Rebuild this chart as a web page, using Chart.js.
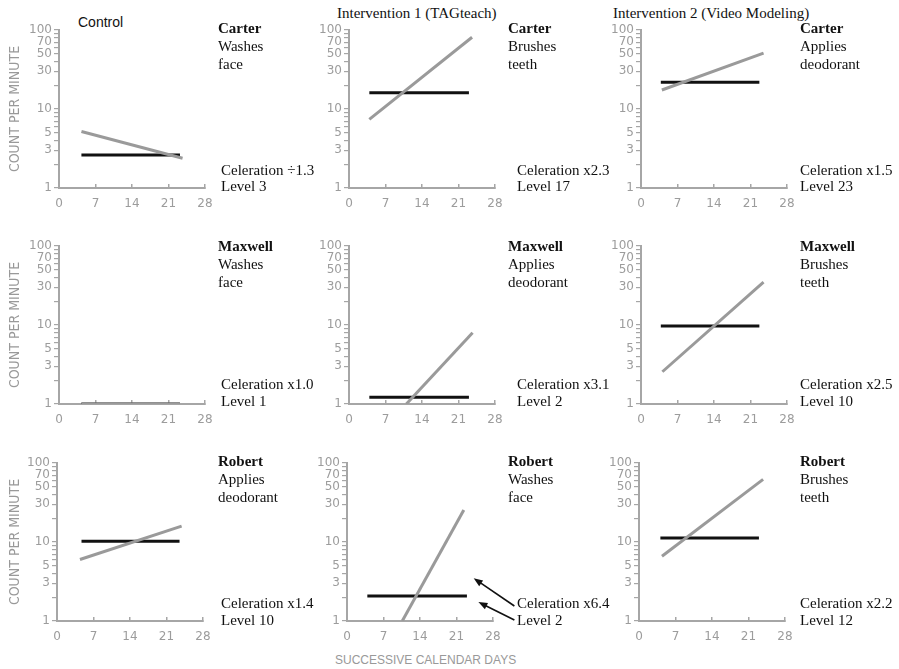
<!DOCTYPE html>
<html>
<head>
<meta charset="utf-8">
<script src="https://cdn.jsdelivr.net/npm/chart.js@4.4.1/dist/chart.umd.min.js"></script>
<style>
  body { margin: 0; background: #fff; width: 899px; height: 669px; position: relative; overflow: hidden; }
  canvas { position: absolute; }
  .note { position: absolute; font-family: "Liberation Serif", "Times New Roman", serif; font-size: 15px; color: #111; white-space: nowrap; }
  .cond { position: absolute; white-space: nowrap; color: #111; line-height: 17px; }
</style>
</head>
<body>
<script>
// conditions (columns) and students (rows)
const conditions = ['Control', 'Intervention 1 (TAGteach)', 'Intervention 2 (Video Modeling)'];
const students = ['Carter', 'Maxwell', 'Robert'];
const xTitle = 'SUCCESSIVE CALENDAR DAYS';
const yTitle = 'COUNT PER MINUTE';

// one entry per panel, row by row
const behaviorLines = [
  ['Washes', 'face'], ['Brushes', 'teeth'], ['Applies', 'deodorant'],
  ['Washes', 'face'], ['Applies', 'deodorant'], ['Brushes', 'teeth'],
  ['Applies', 'deodorant'], ['Washes', 'face'], ['Brushes', 'teeth']
];
const celerationLabels = ['÷1.3', 'x2.3', 'x1.5', 'x1.0', 'x3.1', 'x2.5', 'x1.4', 'x6.4', 'x2.2'];
const levelLabels = [3, 17, 23, 1, 2, 10, 10, 2, 12];

// celeration line (grey): start / end day and count per minute
const celStartDay   = [4.3, 3.9, 4.0, 4.3, 11.0, 4.1, 4.4, 10.6, 4.4];
const celStartValue = [5.2, 7.4, 17.4, 1.0, 1.0, 2.56, 6.0, 1.0, 6.6];
const celEndDay     = [23.7, 23.6, 23.5, 23.2, 23.7, 23.5, 23.9, 22.4, 23.8];
const celEndValue   = [2.38, 81, 51, 1.0, 8.0, 35, 15.9, 25.4, 62];

// level line (black)
const levelStartDay = [4.3, 3.9, 3.8, 4.3, 3.9, 3.8, 4.7, 3.9, 4.1];
const levelEndDay   = [23.2, 23.0, 22.7, 23.2, 23.0, 22.7, 23.5, 23.0, 23.0];
const levelValue    = [2.62, 16.1, 21.8, 1.0, 1.22, 9.7, 10.2, 2.07, 11.2];

// axes
const xTicks = [0, 7, 14, 21, 28];
const yTickValues = [1, 2, 3, 4, 5, 6, 7, 8, 9, 10, 20, 30, 40, 50, 60, 70, 80, 90, 100];
const yTickLabels = [1, 3, 5, 10, 30, 50, 70, 100];

// arrows in the Robert / TAGteach panel
const arrowFromDay   = [32.1, 32.1];
const arrowFromValue = [1.55, 1.03];
const arrowToDay     = [24.3, 25.2];
const arrowToValue   = [3.47, 1.74];

// layout (pixels)
const colX = [59, 349, 641];       // y axis position
const rowY = [30, 246, 463];       // position of 100
const rowShift = [0, 0, -2];
const plotW = 146, plotH = 158;
const canvasLeft = [0, 290, 582], canvasWidth = [290, 292, 317];
const canvasTop = [0, 216, 433], canvasHeight = [215, 215, 236];
const textX = [218, 508, 800], celX = [221, 517, 800];
const nameTop = [18.5, 237, 451.5], celTop = [161.5, 376, 595];

const axisColor = '#a6a6a6';
const tickFont = { family: '"DejaVu Sans", Verdana, sans-serif', size: 12 };

const arrowPlugin = {
  id: 'arrows',
  afterDraw(chart) {
    if (!chart.options.plugins.arrows || !chart.options.plugins.arrows.show) return;
    const { ctx, scales } = chart;
    ctx.save();
    ctx.strokeStyle = '#111';
    ctx.fillStyle = '#111';
    ctx.lineWidth = 1.6;
    arrowFromDay.forEach((d, k) => {
      const x1 = scales.x.getPixelForValue(d), y1 = scales.y.getPixelForValue(arrowFromValue[k]);
      const x2 = scales.x.getPixelForValue(arrowToDay[k]), y2 = scales.y.getPixelForValue(arrowToValue[k]);
      const a = Math.atan2(y2 - y1, x2 - x1);
      ctx.beginPath();
      ctx.moveTo(x1, y1);
      ctx.lineTo(x2 - 6 * Math.cos(a), y2 - 6 * Math.sin(a));
      ctx.stroke();
      ctx.beginPath();
      ctx.moveTo(x2, y2);
      ctx.lineTo(x2 - 9 * Math.cos(a) + 3.5 * Math.sin(a), y2 - 9 * Math.sin(a) - 3.5 * Math.cos(a));
      ctx.lineTo(x2 - 9 * Math.cos(a) - 3.5 * Math.sin(a), y2 - 9 * Math.sin(a) + 3.5 * Math.cos(a));
      ctx.closePath();
      ctx.fill();
    });
    ctx.restore();
  }
};

function addText(cls, left, top, html, style) {
  const div = document.createElement('div');
  div.className = cls;
  div.style.left = left + 'px';
  div.style.top = top + 'px';
  div.innerHTML = html;
  if (style) Object.assign(div.style, style);
  document.body.appendChild(div);
}

// column headers
addText('cond', 78, 13.5, conditions[0], { fontFamily: '"Liberation Sans", Arial, sans-serif', fontSize: '14px' });
addText('cond', 337, 4.5, conditions[1], { fontFamily: '"Liberation Serif", serif', fontSize: '15px' });
addText('cond', 613, 4.5, conditions[2], { fontFamily: '"Liberation Serif", serif', fontSize: '15px' });

// shared x axis title under the middle column
addText('cond', 335, 651.5, xTitle, { fontFamily: '"Liberation Sans", Arial, sans-serif', fontSize: '12px', color: '#999' });

for (let r = 0; r < 3; r++) {
  for (let c = 0; c < 3; c++) {
    const i = r * 3 + c;
    const X0 = colX[c] + rowShift[r];
    const yWidth = c === 0 ? X0 : 42;
    const padLeft = X0 - canvasLeft[c] - yWidth;
    const padRight = canvasWidth[c] - (X0 - canvasLeft[c]) - plotW;
    const xHeight = canvasHeight[r] - (rowY[r] - canvasTop[r]) - plotH;

    const canvas = document.createElement('canvas');
    canvas.width = canvasWidth[c];
    canvas.height = canvasHeight[r];
    canvas.style.left = canvasLeft[c] + 'px';
    canvas.style.top = canvasTop[r] + 'px';
    document.body.appendChild(canvas);

    new Chart(canvas.getContext('2d'), {
      type: 'line',
      data: {
        datasets: [
          {
            label: 'Celeration',
            data: [{ x: celStartDay[i], y: celStartValue[i] }, { x: celEndDay[i], y: celEndValue[i] }],
            borderColor: '#9a9a9a',
            borderWidth: 3,
            pointRadius: 0,
            tension: 0,
            fill: false
          },
          {
            label: 'Level',
            data: [{ x: levelStartDay[i], y: levelValue[i] }, { x: levelEndDay[i], y: levelValue[i] }],
            borderColor: '#111',
            borderWidth: 3,
            pointRadius: 0,
            tension: 0,
            fill: false
          }
        ]
      },
      options: {
        responsive: false,
        animation: false,
        events: [],
        layout: { padding: { left: padLeft, right: padRight, top: rowY[r] - canvasTop[r], bottom: 0 } },
        plugins: {
          legend: { display: false },
          tooltip: { enabled: false },
          arrows: { show: i === 7 }
        },
        scales: {
          x: {
            type: 'linear',
            min: 0,
            max: 28,
            afterBuildTicks: s => { s.ticks = xTicks.map(v => ({ value: v })); },
            afterFit: s => { s.height = xHeight; },
            ticks: { font: tickFont, color: '#9c9c9c', padding: 13, maxRotation: 0 },
            grid: { drawOnChartArea: false, drawTicks: true, tickLength: -4, color: axisColor, lineWidth: 1.5 },
            border: { color: axisColor, width: 2 }
          },
          y: {
            type: 'logarithmic',
            min: 1,
            max: 100,
            afterBuildTicks: s => { s.ticks = yTickValues.map(v => ({ value: v })); },
            afterFit: s => { s.width = yWidth; },
            ticks: {
              font: tickFont,
              color: '#9c9c9c',
              padding: 2,
              autoSkip: false,
              callback: v => yTickLabels.includes(v) ? String(v) : ''
            },
            grid: { drawOnChartArea: false, drawTicks: true, tickLength: 5, color: axisColor, lineWidth: 1.2 },
            border: { color: axisColor, width: 2 },
            title: {
              display: c === 0,
              text: yTitle,
              font: { family: '"Liberation Sans Narrow", "DejaVu Sans Condensed", sans-serif', size: 14 },
              color: '#999',
              padding: { top: 7, bottom: 0 }
            }
          }
        }
      },
      plugins: [arrowPlugin]
    });

    addText('note', textX[c], nameTop[r],
      '<b>' + students[r] + '</b><br>' + behaviorLines[i].join('<br>'), { lineHeight: '18px' });
    addText('note', celX[c], celTop[r],
      'Celeration ' + celerationLabels[i] + '<br>Level ' + levelLabels[i], { lineHeight: '16.5px' });
  }
}
</script>
</body>
</html>
